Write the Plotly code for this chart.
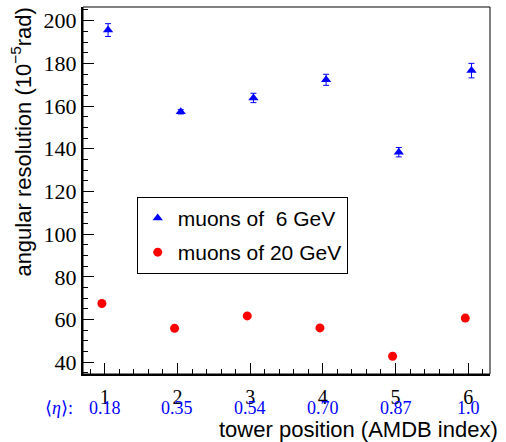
import plotly.graph_objects as go

# ---- data ----
tower = [1, 2, 3, 4, 5, 6]
eta_labels = ["0.18", "0.35", "0.54", "0.70", "0.87", "1.0"]
res_6gev = [195.6, 157.3, 163.8, 172.3, 138.4, 176.6]
err_6gev = [3.0, 1.0, 2.2, 2.6, 2.2, 3.4]
res_20gev = [67.5, 55.9, 61.7, 56.1, 42.8, 60.7]

BLUE = "#0000ff"
RED = "#ff0000"
SERIF = "Liberation Serif"
SANS = "Liberation Sans"

x6 = [t + 0.045 for t in tower]
x20 = [t - 0.04 for t in tower]

fig = go.Figure()
fig.add_trace(go.Scatter(
    x=x6, y=res_6gev, mode="markers", name="muons of\u00a0\u00a06 GeV",
    marker=dict(symbol="triangle-up", size=9, color=BLUE),
    error_y=dict(type="data", array=err_6gev, color=BLUE, thickness=1, width=3),
    legendgroup="a",
))
fig.add_trace(go.Scatter(
    x=x20, y=res_20gev, mode="markers", name="muons of 20 GeV",
    marker=dict(symbol="circle", size=9, color=RED),
    legendgroup="b",
))

ETA_Y = -0.0926
annotations = []
for t, lab in zip(tower, eta_labels):
    annotations.append(dict(
        x=t, y=ETA_Y, xref="x", yref="paper", text=lab, showarrow=False,
        xanchor="center", yanchor="middle",
        font=dict(family=SERIF, size=18, color=BLUE),
    ))
annotations.append(dict(
    x=-0.0197, y=ETA_Y, xref="paper", yref="paper", text="\u27e8<i>\u03b7</i>\u27e9:",
    showarrow=False, xanchor="right", yanchor="middle",
    font=dict(family=SERIF, size=18, color=BLUE),
))
annotations.append(dict(
    x=1.025, y=-0.150, xref="paper", yref="paper", text="tower position (AMDB index)",
    showarrow=False, xanchor="right", yanchor="middle",
    font=dict(family=SANS, size=22, color="black"),
))
annotations.append(dict(
    x=-0.151, y=0.632, xref="paper", yref="paper",
    text="angular resolution (10<sup>\u22125</sup>rad)", textangle=-90,
    showarrow=False, xanchor="center", yanchor="middle",
    font=dict(family=SANS, size=22, color="black"),
))

fig.update_layout(
    width=506, height=442,
    margin=dict(l=83, r=16, t=7, b=68),
    paper_bgcolor="white", plot_bgcolor="white",
    showlegend=True,
    legend=dict(
        x=0.132, y=0.483, xanchor="left", yanchor="top",
        bgcolor="white", bordercolor="black", borderwidth=1,
        font=dict(family=SANS, size=21, color="black"),
        tracegroupgap=4, traceorder="grouped",
        itemwidth=30,
    ),
    annotations=annotations,
    shapes=[dict(type="rect", xref="paper", yref="paper", x0=0, x1=1, y0=0, y1=1,
                 line=dict(color="black", width=1))],
)
fig.update_xaxes(
    range=[0.7, 6.3], tickvals=tower, ticktext=[str(t) for t in tower],
    ticks="inside", ticklen=11, tickwidth=1, tickcolor="black",
    minor=dict(dtick=0.2, tick0=0, ticks="inside", ticklen=5, tickcolor="black", tickwidth=1),
    showgrid=False, zeroline=False, showline=True, linecolor="black", linewidth=2,
    tickfont=dict(family=SERIF, size=20, color="black"),
    ticklabelposition="outside", ticklabelstandoff=4,
)
fig.update_yaxes(
    range=[34.5, 206.4], dtick=20, tick0=0,
    ticks="inside", ticklen=11, tickwidth=1, tickcolor="black",
    minor=dict(dtick=5, tick0=0, ticks="inside", ticklen=5, tickcolor="black", tickwidth=1),
    showgrid=False, zeroline=False, showline=True, linecolor="black", linewidth=2,
    tickfont=dict(family=SERIF, size=22, color="black"),
)

fig.write_html("out.html")
